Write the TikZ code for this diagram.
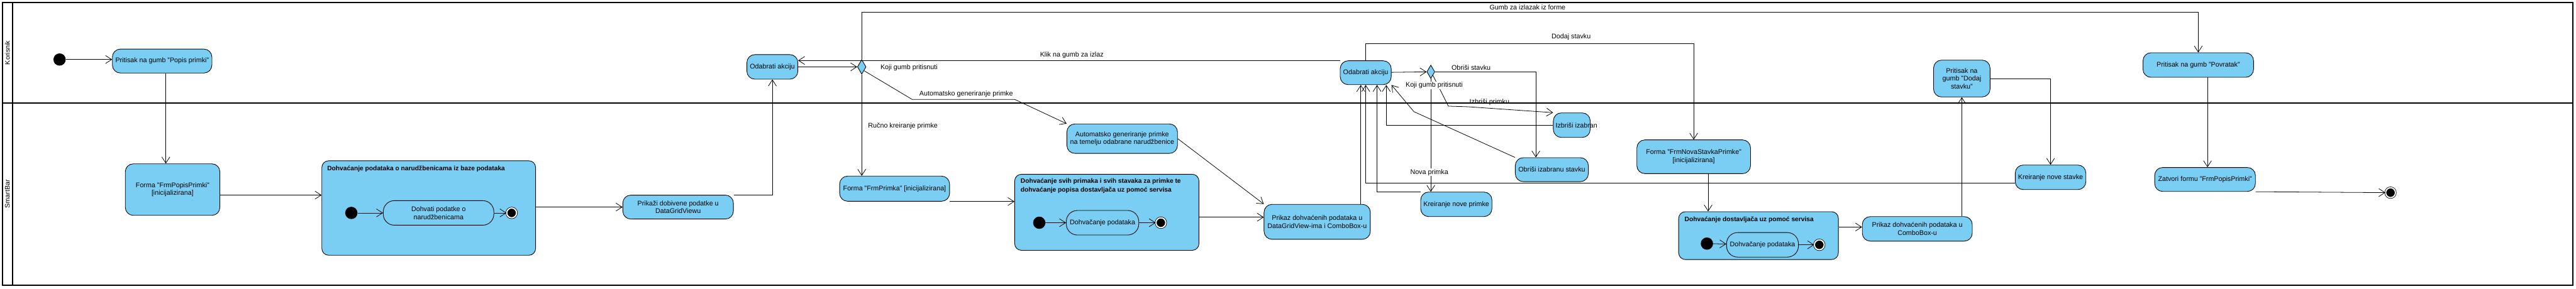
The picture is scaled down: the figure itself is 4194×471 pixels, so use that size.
\documentclass[tikz,border=0pt]{standalone}
\usepackage{fontspec}
\setmainfont{Liberation Sans}
\usepackage{tikz}
\usetikzlibrary{shapes.geometric, arrows.meta}
\definecolor{actblue}{RGB}{122,205,243}

\begin{document}
\begin{tikzpicture}[x=1pt, y=-1pt,
    font=\fontsize{11}{13}\selectfont,
    act/.style={draw, line width=0.9pt, fill=actblue, rounded corners=13pt, align=center, inner sep=2pt},
    inneract/.style={act, rounded corners=18pt},
    group/.style={draw, line width=0.9pt, fill=actblue, rounded corners=11pt},
    grouptitle/.style={anchor=north west, inner sep=0pt, align=left, font=\fontsize{10.5}{14}\selectfont\bfseries},
    decision/.style={diamond, draw, line width=0.9pt, fill=actblue, minimum width=14pt, minimum height=24pt, inner sep=0pt},
    startnode/.style={circle, fill=black, minimum size=20pt, inner sep=0pt},
    endnode/.style={circle, draw, fill=black, line width=0.8pt, double=white, double distance=2pt, minimum size=16pt, inner sep=0pt},
    flow/.style={draw, line width=0.8pt, -{Straight Barb[length=10pt, width=13pt, line width=0.8pt]}},
    lbl/.style={inner sep=1pt},
    lane/.style={line width=2pt}
]
    \useasboundingbox (0,0) rectangle (4194,471);

    % Swimlanes
    \draw[lane] (4,4) rectangle (4189,465);
    \draw[lane] (20,4) -- (20,465);
    \draw[lane] (4,168) -- (4189,168);
    \node[rotate=90] (laneK) at (12,86) {Korisnik};
    \node[rotate=90] (laneS) at (12,316) {SmartBar};

    % Start and opening of the form
    \node[startnode] (ini) at (97,97) {};
    \node[act, minimum width=162pt, minimum height=39pt] (p1) at (264,99.5) {Pritisak na gumb "Popis primki"};
    \node[act, minimum width=154pt, minimum height=84pt] (frm1) at (281,309) {Forma "FrmPopisPrimki"\\{[inicijalizirana]}};

    % Fetching orders from the database
    \node[group, minimum width=348pt, minimum height=154pt] (comp1) at (698,339) {};
    \node[grouptitle] (comp1T) at ([xshift=9pt,yshift=-8pt]comp1.north west) {Dohvaćanje podataka o narudžbenicama iz baze podataka};
    \node[startnode] (ini1) at (572,347) {};
    \node[inneract, minimum width=180pt, minimum height=40pt] (dohv1) at (714,347) {Dohvati podatke o\\narudžbenicama};
    \node[endnode] (fin1) at (833,347) {};

    \node[act, minimum width=180pt, minimum height=39pt] (prik1) at (1104,337.5) {Prikaži dobivene podatke u\\DataGridViewu};
    \node[act, minimum width=83pt, minimum height=40pt] (odab1) at (1257.5,109) {Odabrati akciju};
    \node[decision] (dec1) at (1403,109) {};

    % Receipt form
    \node[act, minimum width=179pt, minimum height=41pt] (frmP) at (1456.5,307.5) {Forma "FrmPrimka" [inicijalizirana]};
    \node[act, minimum width=180pt, minimum height=48pt] (auto) at (1827,226) {Automatsko generiranje primke\\na temelju odabrane narudžbenice};

    \node[group, minimum width=300pt, minimum height=124pt] (comp2) at (1802,346) {};
    \node[grouptitle] (comp2T) at ([xshift=10pt,yshift=-7pt]comp2.north west) {Dohvaćanje svih primaka i svih stavaka za primke te\\dohvaćanje popisa dostavljača uz pomoć servisa};
    \node[startnode] (ini2) at (1692,363) {};
    \node[inneract, minimum width=118pt, minimum height=40pt] (dohv2) at (1795,363) {Dohvačanje podataka};
    \node[endnode] (fin2) at (1890,363) {};

    \node[act, minimum width=173pt, minimum height=57pt] (prik2) at (2144.5,361.5) {Prikaz dohvaćenih podataka u\\DataGridView-ima i ComboBox-u};
    \node[act, minimum width=83pt, minimum height=39pt] (odab2) at (2223.5,118.5) {Odabrati akciju};
    \node[decision, minimum width=13pt, minimum height=22pt] (dec2) at (2329.5,117) {};

    % Actions on receipts and items
    \node[act, minimum width=116pt, minimum height=40pt] (kreirP) at (2371,333) {Kreiranje nove primke};
    \node[act, minimum width=60pt, minimum height=40pt] (izb) at (2559,204) {};
    \node[anchor=west, inner sep=0pt] (izbT) at ([xshift=4pt]izb.west) {Izbriši izabran};
    \node[act, minimum width=119pt, minimum height=39pt] (obr) at (2526.5,276.5) {Obriši izabranu stavku};
    \node[act, minimum width=185pt, minimum height=55pt] (frmN) at (2757.5,255.5) {Forma "FrmNovaStavkaPrimke"\\{[inicijalizirana]}};

    \node[group, minimum width=260pt, minimum height=78pt] (comp3) at (2863,384) {};
    \node[grouptitle] (comp3T) at ([xshift=10pt,yshift=-8pt]comp3.north west) {Dohvaćanje dostavljača uz pomoć servisa};
    \node[startnode] (ini3) at (2779,397) {};
    \node[inneract, minimum width=117pt, minimum height=40pt] (dohv3) at (2869.5,399) {Dohvačanje podataka};
    \node[endnode] (fin3) at (2962,399) {};

    \node[act, minimum width=179pt, minimum height=40pt] (prik3) at (3121.5,373) {Prikaz dohvaćenih podataka u\\ComboBox-u};
    \node[act, minimum width=92pt, minimum height=60pt] (pDod) at (3194,128) {Pritisak na\\gumb "Dodaj\\stavku"};
    \node[act, minimum width=115pt, minimum height=40pt] (kreirS) at (3338.5,289) {Kreiranje nove stavke};

    % Closing the form
    \node[act, minimum width=180pt, minimum height=40pt] (pPov) at (3579,106) {Pritisak na gumb "Povratak"};
    \node[act, minimum width=164pt, minimum height=39pt] (zat) at (3590,292.5) {Zatvori formu "FrmPopisPrimki"};
    \node[endnode] (fin) at (3892,314) {};

    % Bend points
    \coordinate (autoA) at (1485,162);
    \coordinate (autoB) at (1652,162);
    \coordinate (izbA) at (2358,173);
    \coordinate (izbB) at (2390,174);
    \coordinate (obrA) at (2302,182);

    % Control flows
    \draw[flow] (ini) -- (ini -| p1.west);
    \draw[flow] ([xshift=6pt]p1.south) -- ([xshift=6pt]p1.south |- frm1.north);
    \draw[flow] ([yshift=-9pt]frm1.east) -- ([yshift=-9pt]frm1.east -| comp1.west);
    \draw[flow] (prik1.west -| comp1.east) -- (prik1.west);
    \draw[flow] (prik1.north east) -| (odab1.south);
    \draw[flow] (odab1.east) -- (dec1.west);
    \draw[flow] (odab2.north west) -- (odab2.north west -| odab1.east);
    \draw[flow] (dec1.north) -- ++(0,-77) -| (pPov.north);
    \draw[flow] (dec1.south) -- (dec1.south |- frmP.north);
    \draw[flow] (dec1.south east) -- (autoA) -- (autoB) -- (auto.north west);
    \draw[flow] (frmP.south east) -- (frmP.south east -| comp2.west);
    \draw[flow] ([yshift=-8pt]comp2.east) -- ([yshift=-8pt]comp2.east -| prik2.west);
    \draw[flow] (auto.east) -- (prik2.north west);
    \draw[flow] ([xshift=-8pt]odab2.south |- prik2.north) -- ([xshift=-8pt]odab2.south);
    \draw[flow] (odab2) -- (dec2);
    \draw[flow] (dec2.east) -| ([xshift=-26pt]obr.north);
    \draw[flow] (dec2.south) -- (dec2.south |- kreirP.north);
    \draw[flow] (dec2.south east) -- (izbA) -- (izbB) -- (izb.north west);
    \draw[flow] (kreirP.north west) -| ([xshift=18.5pt]odab2.south);
    \draw[flow] (izb.west) -| ([xshift=33.5pt]odab2.south);
    \draw[flow] (obr.north west) -- (obrA) -- (odab2.south east);
    \draw[flow] (odab2.north) -- ++(0,-27) -| (frmN.north);
    \draw[flow] ([xshift=23.5pt]frmN.south) -- ([xshift=23.5pt]frmN.south |- comp3.north);
    \draw[flow] ([yshift=14pt]comp3.east) -- ([yshift=14pt]comp3.east -| prik3.west);
    \draw[flow] (pDod.south |- prik3.north) -- (pDod.south);
    \draw[flow] (pDod.east) -| (kreirS.north);
    \draw[flow] ([yshift=-9pt]kreirS.west) -| (odab2.south);
    \draw[flow] ([xshift=15pt]pPov.south) -- ([xshift=15pt]pPov.south |- zat.north);
    \draw[flow] (zat.south east) -- (fin);

    % Flows inside the groups
    \foreach \i in {1,2,3} {
        \draw[flow] (ini\i) -- (dohv\i);
        \draw[flow] (dohv\i) -- (fin\i);
    }

    % Guards
    \node[lbl] (lKoji1) at (1480,110) {Koji gumb pritisnuti};
    \node[lbl] (lRucno) at (1470,205) {Ručno kreiranje primke};
    \node[lbl] (lAuto) at (1573,153) {Automatsko generiranje primke};
    \node[lbl] (lKlik) at (1745,90) {Klik na gumb za izlaz};
    \node[lbl] (lGumb) at (2487,12) {Gumb za izlazak iz forme};
    \node[lbl] (lDodaj) at (2558,60) {Dodaj stavku};
    \node[lbl] (lObrisi) at (2395,110) {Obriši stavku};
    \node[lbl, fill=white] (lKoji2) at (2335,139) {Koji gumb pritisnuti};
    \node[lbl, fill=white] (lNova) at (2327,281) {Nova primka};
    \node[lbl] (lIzbrisi) at (2425,167) {Izbriši primku};
\end{tikzpicture}
\end{document}
